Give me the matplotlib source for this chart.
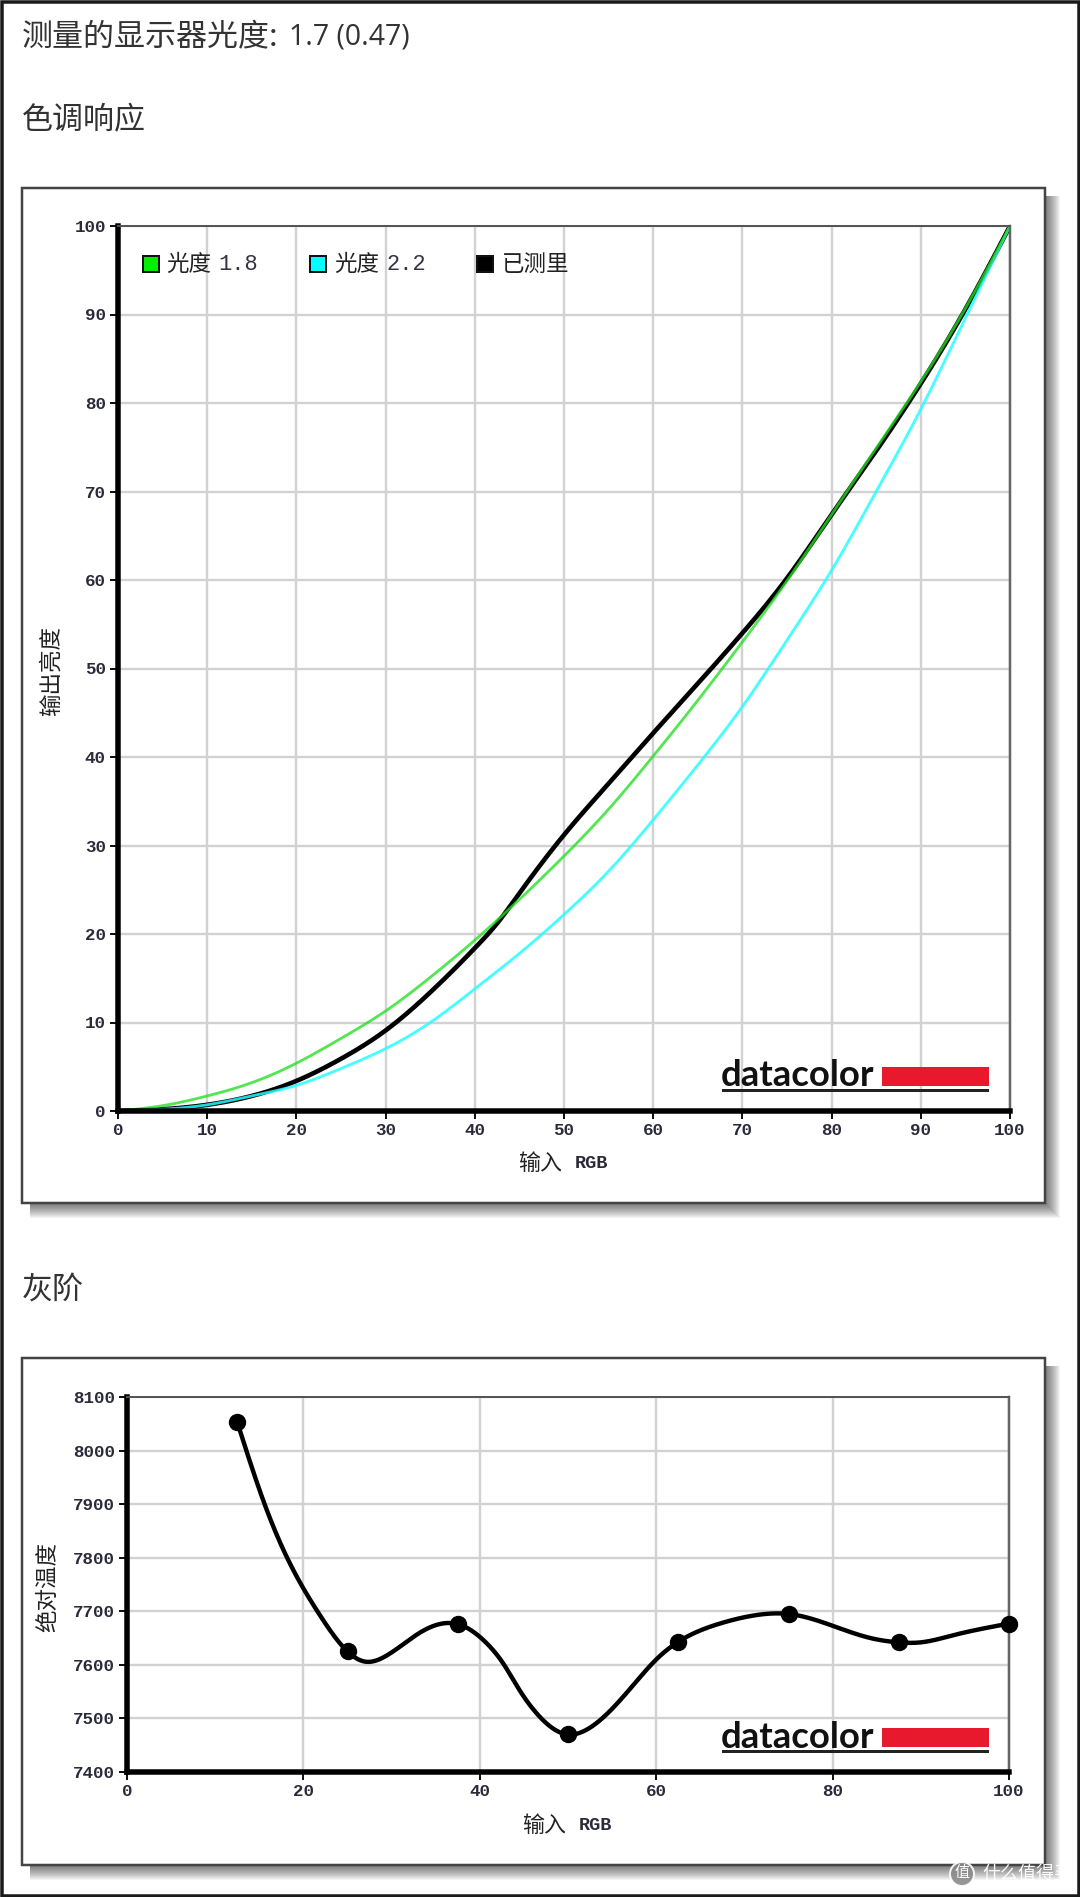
import numpy as np
import matplotlib
matplotlib.use("Agg")
import matplotlib.pyplot as plt
from matplotlib.patches import Rectangle, Circle

plt.rcParams["font.family"] = ["Noto Sans CJK SC", "DejaVu Sans"]

W, H = 1080, 1897
PX = 72 / 100  # points per pixel at dpi 100

GAMMA_X = [0, 5, 10, 15, 20, 25, 30, 35, 40, 45, 50, 55, 60, 65, 70, 75, 80, 85, 90, 95, 100]
GAMMA18_Y = [0, 0.6, 1.7, 3.2, 5.4, 8.2, 11.3, 15.1, 19.3, 23.9, 28.8, 34.1, 40.1, 46.4, 53, 59.9, 67.4, 74.9, 82.4, 90.7, 100]
GAMMA22_Y = [0, 0.2, 0.7, 1.7, 2.9, 4.8, 7.05, 10, 13.8, 17.8, 22.2, 27.1, 32.9, 39.1, 45.7, 53.2, 61.1, 70, 79.3, 89.6, 100]
MEASURED_X = [0, 5, 10, 15, 20, 25, 30, 35, 40, 42.5, 45, 50, 55, 60, 65, 70, 75, 80, 85, 90, 95, 100]
MEASURED_Y = [0, 0.2, 0.7, 1.7, 3.4, 5.9, 9.1, 13.4, 18.4, 21.2, 24.6, 31.2, 37, 42.7, 48.3, 54, 60.2, 67.4, 74.6, 82.2, 90.6, 100]

KELVIN_X = [12.5, 25, 37.5, 50, 62.5, 75, 87.5, 100]
KELVIN_Y = [8053, 7625, 7676, 7470, 7643, 7695, 7642, 7677]
# trace of the smoothed line between the measured points
CURVE_X = [12.5, 15.6, 18.3, 21.9, 25, 27, 29.4, 33.2, 37.5, 40.8, 42.6, 44.5, 46.8, 50, 52, 55.8,
           57.7, 60, 62.5, 67.2, 71, 75, 80.5, 84.3, 87.5, 90, 93.6, 100]
CURVE_Y = [8053, 7900, 7795, 7692, 7625, 7606, 7617, 7660, 7676, 7640, 7604, 7553, 7503, 7470, 7478, 7532,
           7568, 7610, 7643, 7677, 7692, 7695, 7670, 7650, 7642, 7642, 7655, 7677]

TONE_TICKS = list(range(0, 101, 10))
KELVIN_XTICKS = list(range(0, 101, 20))
KELVIN_YTICKS = list(range(7400, 8101, 100))

LEGEND_LABELS = ["光度", "光度", "已测里"]
LEGEND_GAMMAS = ["1.8", "2.2", ""]
LEGEND_COLORS = ["#00ee00", "#00ffff", "#000000"]


def natural_spline(x, y, num=800):
    # natural cubic spline, numpy only
    x = np.asarray(x, float)
    y = np.asarray(y, float)
    n = len(x)
    h = np.diff(x)
    a = np.zeros((n, n))
    b = np.zeros(n)
    a[0, 0] = a[-1, -1] = 1
    for i in range(1, n - 1):
        a[i, i - 1] = h[i - 1]
        a[i, i] = 2 * (h[i - 1] + h[i])
        a[i, i + 1] = h[i]
        b[i] = 6 * ((y[i + 1] - y[i]) / h[i] - (y[i] - y[i - 1]) / h[i - 1])
    m = np.linalg.solve(a, b)
    xs = np.linspace(x[0], x[-1], num)
    idx = np.clip(np.searchsorted(x, xs) - 1, 0, n - 2)
    t0 = x[idx + 1] - xs
    t1 = xs - x[idx]
    hi = h[idx]
    ys = (m[idx] * t0**3 + m[idx + 1] * t1**3) / (6 * hi)
    ys += (y[idx] / hi - m[idx] * hi / 6) * t0
    ys += (y[idx + 1] / hi - m[idx + 1] * hi / 6) * t1
    return xs, ys


def add_plot_axes(fig, left, top, right, bottom):
    ax = fig.add_axes([left / W, 1 - bottom / H, (right - left) / W, (bottom - top) / H], zorder=2)
    ax.set_facecolor("none")
    for side in ("left", "bottom"):
        ax.spines[side].set_linewidth(5.5 * PX)
        ax.spines[side].set_color("black")
    ax.spines["top"].set_linewidth(2 * PX)
    ax.spines["top"].set_color("#555555")
    ax.spines["right"].set_linewidth(2.5 * PX)
    ax.spines["right"].set_color("#666666")
    ax.grid(True, color="#d2d2d2", linewidth=2.4 * PX)
    ax.set_axisbelow(True)
    ax.tick_params(length=8 * PX, width=2 * PX, color="#111111", pad=3,
                   labelsize=17.5 * PX, labelcolor="#2a2a3a")
    return ax


def style_ticks(ax):
    for label in ax.get_xticklabels() + ax.get_yticklabels():
        label.set_family("Liberation Mono")
        label.set_fontweight("bold")


def draw_panel(bg, left, top, right, bottom):
    # soft drop shadow to the lower right, then the white card
    for off in range(15, 0, -1):
        bg.add_patch(Rectangle((left + 8, top + 8), right - left + off - 8, bottom - top + off - 8,
                               facecolor="black", edgecolor="none", alpha=0.042))
    bg.add_patch(Rectangle((left, top), right - left, bottom - top,
                           facecolor="white", edgecolor="#444444", linewidth=2.5 * PX))


def draw_logo(top_layer, rect_top):
    rect_bottom = rect_top + 19
    top_layer.text(721, rect_bottom + 0.5, "datacolor", fontsize=36.5 * PX, fontweight="bold",
                   family="Lato", color="#111111", ha="left", va="baseline")
    top_layer.add_patch(Rectangle((882, rect_top), 107, 19, facecolor="#e8192c", edgecolor="none"))
    top_layer.add_patch(Rectangle((722, rect_top + 22), 267, 3, facecolor="#222222", edgecolor="none"))


def draw_x_label(top_layer, x, y):
    top_layer.text(x, y, "输入", fontsize=22 * PX, color="#222222", ha="left", va="center")
    top_layer.text(x + 57, y, "RGB", fontsize=18.5 * PX, color="#2a2a3a", ha="left", va="center",
                   family="Liberation Mono", fontweight="bold")


fig = plt.figure(figsize=(W / 100, H / 100), dpi=100, facecolor="white")

bg = fig.add_axes([0, 0, 1, 1], zorder=0)
bg.set_xlim(0, W)
bg.set_ylim(H, 0)
bg.axis("off")

top_layer = fig.add_axes([0, 0, 1, 1], zorder=3)
top_layer.set_xlim(0, W)
top_layer.set_ylim(H, 0)
top_layer.axis("off")

bg.add_patch(Rectangle((1.5, 1.5), W - 3, H - 3, facecolor="white", edgecolor="#1a1a1a", linewidth=3.5 * PX))

text_color = "#333333"
top_layer.text(22, 37, "测量的显示器光度:", fontsize=31 * PX, color=text_color, va="center")
top_layer.text(289, 37, "1.7 (0.47)", fontsize=28.5 * PX, color=text_color, va="center", family="Open Sans")
top_layer.text(22, 120, "色调响应", fontsize=31 * PX, color=text_color, va="center")
top_layer.text(22, 1290, "灰阶", fontsize=31 * PX, color=text_color, va="center")

draw_panel(bg, 22, 188, 1045, 1203)
draw_panel(bg, 22, 1358, 1045, 1865)

# tone response, reference curves sit translucent over the measured one
ax1 = add_plot_axes(fig, 118, 226, 1010, 1111)
ax1.set_xlim(0, 100)
ax1.set_ylim(0, 100)
ax1.set_xticks(TONE_TICKS)
ax1.set_yticks(TONE_TICKS)
style_ticks(ax1)
ax1.plot(*natural_spline(MEASURED_X, MEASURED_Y), color="black", linewidth=4.6 * PX, solid_capstyle="round")
ax1.plot(*natural_spline(GAMMA_X, GAMMA22_Y), color="#22ffff", alpha=0.85, linewidth=2.8 * PX, solid_capstyle="round")
ax1.plot(*natural_spline(GAMMA_X, GAMMA18_Y), color="#22e022", alpha=0.78, linewidth=2.8 * PX, solid_capstyle="round")

# legend row inside the plot
swatch_x = [143, 310, 477]
label_x = [166, 334, 502]
for sx, lx, label, gamma, color in zip(swatch_x, label_x, LEGEND_LABELS, LEGEND_GAMMAS, LEGEND_COLORS):
    top_layer.add_patch(Rectangle((sx, 256), 16, 16, facecolor=color, edgecolor="#111111", linewidth=2 * PX))
    top_layer.text(lx, 264, label, fontsize=22.5 * PX, color="#222222", va="center")
    if gamma:
        top_layer.text(lx + 52, 265, gamma, fontsize=22 * PX, color="#333344", va="center",
                       family="Liberation Mono")

draw_x_label(top_layer, 518, 1164)
top_layer.text(51, 671, "输出亮度", fontsize=22.5 * PX, color="#222222", ha="center", va="center", rotation=90)
draw_logo(top_layer, 1067)

# grey scale colour temperature
ax2 = add_plot_axes(fig, 127, 1397, 1009, 1772)
ax2.set_xlim(0, 100)
ax2.set_ylim(7400, 8100)
ax2.set_xticks(KELVIN_XTICKS)
ax2.set_yticks(KELVIN_YTICKS)
style_ticks(ax2)
ax2.plot(*natural_spline(CURVE_X, CURVE_Y), color="black", linewidth=4.4 * PX, solid_capstyle="round")
ax2.plot(KELVIN_X, KELVIN_Y, linestyle="none", marker="o", markersize=16 * PX, color="black", clip_on=False, zorder=5)

draw_x_label(top_layer, 522, 1826)
top_layer.text(48, 1587, "绝对温度", fontsize=22.5 * PX, color="#222222", ha="center", va="center", rotation=90)
draw_logo(top_layer, 1728)

# site stamp in the corner
top_layer.add_patch(Circle((962, 1874), 12, facecolor="#8a8a8a", edgecolor="white", linewidth=2 * PX, alpha=0.9))
top_layer.text(962, 1873, "值", fontsize=15 * PX, color="white", ha="center", va="center")
top_layer.text(982, 1874, "什么值得买", fontsize=18 * PX, color="white", ha="left", va="center", alpha=0.95)

fig.savefig("out.png", dpi=100)
